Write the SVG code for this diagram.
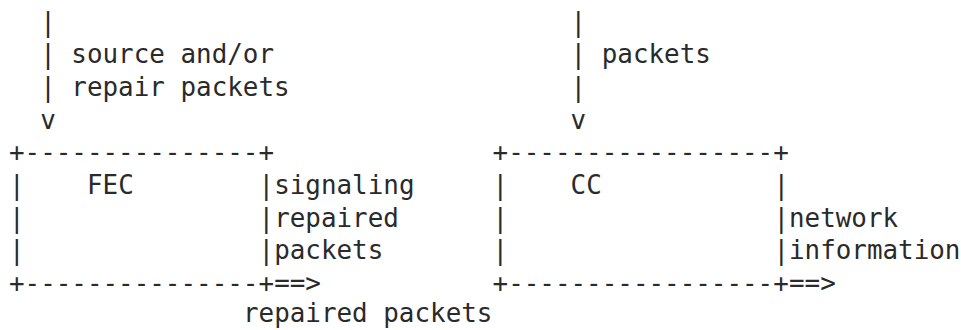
<svg xmlns="http://www.w3.org/2000/svg" width="961" height="330" viewBox="0 0 961 330">
<style>
text{font-family:"DejaVu Sans Mono","Liberation Mono",monospace;font-size:25.9px;fill:#2a2a2a;white-space:pre}
</style>
<rect width="961" height="330" fill="#fff"/>
<g id="connectors" xml:space="preserve">
<text x="40.2" y="30.5">|</text>
<text x="570.6" y="30.5">|</text>
<text x="40.2" y="63.2">| source and/or</text>
<text x="570.6" y="63.2">| packets</text>
<text x="40.2" y="95.9">| repair packets</text>
<text x="570.6" y="95.9">|</text>
<text x="40.2" y="128.6">v</text>
<text x="570.6" y="128.6">v</text>
<text x="274.2" y="194">signaling</text>
<text x="274.2" y="226.5">repaired</text>
<text x="274.2" y="259">packets</text>
<text x="274.2" y="291.5">==&gt;</text>
<text x="789" y="226.5">network</text>
<text x="789" y="259">information</text>
<text x="789" y="291.5">==&gt;</text>
<text x="243" y="322">repaired packets</text>
</g>
<g id="fec" xml:space="preserve">
<text x="9" y="161.3">+---------------+</text>
<text x="9" y="194">|</text><text x="258.6" y="194">|</text>
<text x="87" y="194">FEC</text>
<text x="9" y="226.5">|</text><text x="258.6" y="226.5">|</text>
<text x="9" y="259">|</text><text x="258.6" y="259">|</text>
<text x="9" y="291.5">+---------------+</text>
</g>
<g id="cc" xml:space="preserve">
<text x="492.6" y="161.3">+-----------------+</text>
<text x="492.6" y="194">|</text><text x="773.4" y="194">|</text>
<text x="570.6" y="194">CC</text>
<text x="492.6" y="226.5">|</text><text x="773.4" y="226.5">|</text>
<text x="492.6" y="259">|</text><text x="773.4" y="259">|</text>
<text x="492.6" y="291.5">+-----------------+</text>
</g>
</svg>
